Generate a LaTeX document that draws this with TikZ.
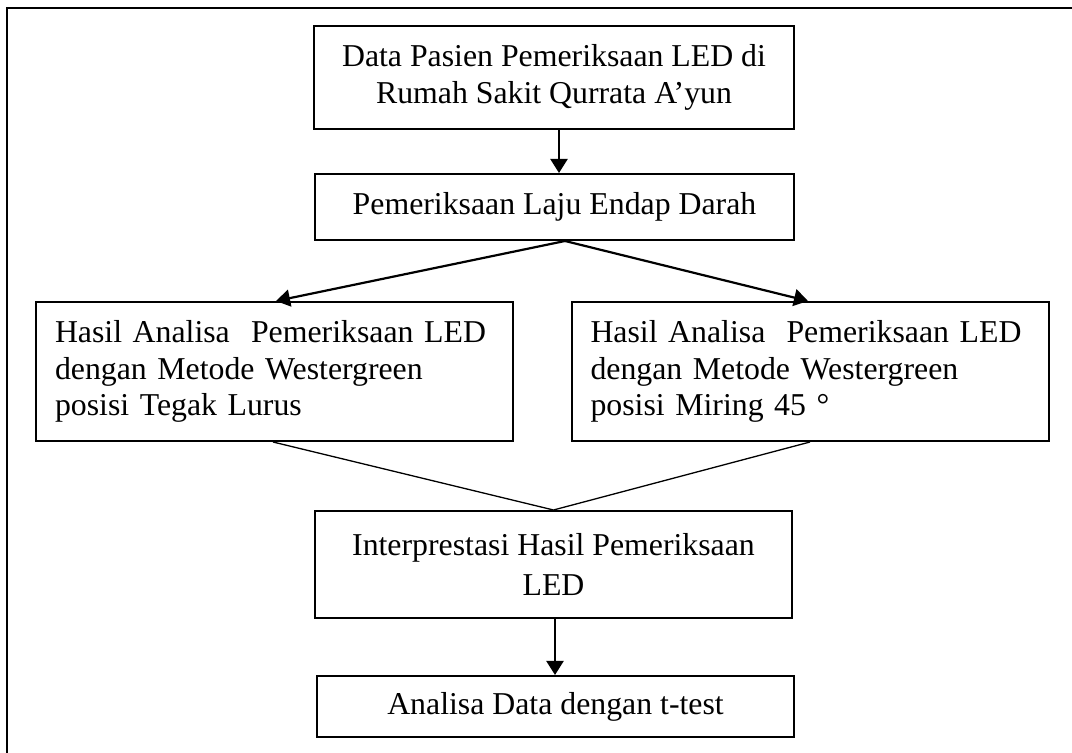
\documentclass[tikz,border=0pt]{standalone}
\usepackage{fontspec}
\setmainfont{Liberation Serif}
\usetikzlibrary{arrows.meta}
\tikzset{
  box/.style={draw=black, line width=1pt, rectangle, inner sep=0pt,
    font=\fontsize{15.9pt}{18.25pt}\selectfont},
  cbox/.style={box, align=center},
  lbox/.style={box, align=left, text width=219.5pt, inner xsep=9.5pt},
  arr/.style={line width=1.1pt, -{Triangle[length=7pt,width=8.5pt]}},
  thin line/.style={line width=0.65pt},
  frame/.style={line width=1pt}
}
\begin{document}
\begin{tikzpicture}[x=0.5pt,y=-0.5pt]
\useasboundingbox (0,0) rectangle (1072,753);
\draw[frame] (1072,8) -- (7,8) -- (7,753);

\node[cbox, minimum width=240pt, minimum height=51.5pt] (b1) at (554,77.5)
  {Data Pasien Pemeriksaan LED di\\Rumah Sakit Qurrata A’yun};
\node[cbox, minimum width=239.5pt, minimum height=33pt] (b2) at (554.5,207)
  {Pemeriksaan Laju Endap Darah};
\node[lbox, minimum height=69.5pt] (b3) at (274.5,371.5)
  {Hasil Analisa\ \ Pemeriksaan LED\\dengan Metode Westergreen\\posisi Tegak Lurus};
\node[lbox, minimum height=69.5pt] (b4) at (810,371.5)
  {Hasil Analisa\ \ Pemeriksaan LED\\dengan Metode Westergreen\\posisi Miring 45 °};
\node[cbox, minimum width=238.5pt, minimum height=53.5pt,
  font=\fontsize{15.9pt}{20.5pt}\selectfont] (b5) at (553.5,564.5)
  {Interprestasi Hasil Pemeriksaan\\LED};
\node[cbox, minimum width=238.5pt, minimum height=30.5pt] (b6) at (555.5,706.5)
  {Analisa Data dengan t-test};

\draw[arr] ([xshift=2.5pt]b1.south) -- ([xshift=2.25pt]b2.north);
\draw[arr] ([xshift=5.25pt]b2.south) -- ([xshift=0.75pt]b3.north);
\draw[arr] ([xshift=5.25pt]b2.south) -- ([xshift=-1pt]b4.north);
\draw[thin line] ([xshift=-0.75pt]b3.south) -- (b5.north);
\draw[thin line] (b4.south) -- (b5.north);
\draw[arr] ([xshift=0.75pt]b5.south) -- ([xshift=-0.25pt]b6.north);
\end{tikzpicture}
\end{document}
